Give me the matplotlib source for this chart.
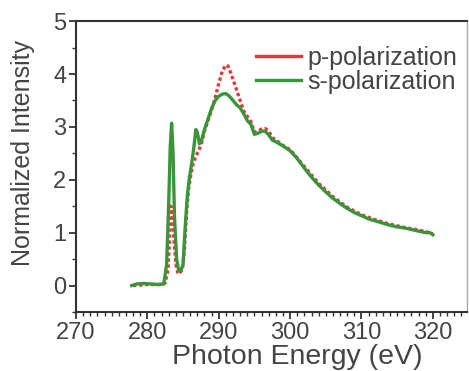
import matplotlib
matplotlib.use('Agg')
import matplotlib.pyplot as plt
from matplotlib.ticker import MultipleLocator
from matplotlib.lines import Line2D

plt.rcParams['font.family'] = ['Liberation Sans', 'DejaVu Sans']

# s-polarization (green)
s_energy = [277.8, 278.5, 279.5, 280.5, 281.5, 282.3, 282.7, 283.0, 283.2, 283.4,
            283.6, 283.8, 284.1, 284.4, 284.7, 285.0, 285.3, 285.6, 285.9, 286.2,
            286.5, 286.8, 287.0, 287.3, 287.6, 288.0, 288.5, 289.0, 289.5, 290.0,
            290.5, 291.0, 291.5, 292.0, 292.5, 293.0, 293.5, 294.0, 294.5, 295.0,
            295.5, 296.0, 296.5, 297.0, 297.5, 298.0, 299.0, 300.0, 301.0, 302.0,
            303.0, 304.0, 305.0, 306.0, 307.0, 308.0, 309.0, 310.0, 311.0, 312.0,
            313.0, 314.0, 315.0, 316.0, 317.0, 318.0, 319.0, 319.6, 320.0]
s_intensity = [0.0, 0.03, 0.04, 0.03, 0.02, 0.03, 0.4, 1.6, 2.6, 3.07,
               2.5, 1.3, 0.5, 0.28, 0.28, 0.4, 1.1, 1.7, 2.05, 2.3,
               2.6, 2.95, 2.9, 2.68, 2.75, 2.95, 3.15, 3.35, 3.5, 3.58,
               3.62, 3.63, 3.58, 3.5, 3.42, 3.36, 3.25, 3.12, 3.05, 2.86,
               2.88, 2.92, 2.92, 2.85, 2.75, 2.72, 2.64, 2.55, 2.4, 2.22,
               2.05, 1.9, 1.77, 1.65, 1.55, 1.46, 1.38, 1.32, 1.26, 1.22,
               1.18, 1.14, 1.11, 1.09, 1.06, 1.03, 1.0, 1.0, 0.96]

# p-polarization (red)
p_energy = [278.0, 280.0, 282.0, 282.5, 282.9, 283.1, 283.3, 283.5, 283.7, 284.0,
            284.3, 284.6, 284.9, 285.2, 285.5, 285.8, 286.1, 286.4, 286.8, 287.2,
            287.6, 288.0, 288.5, 289.0, 289.5, 290.0, 290.5, 291.0, 291.3, 291.6,
            292.0, 292.5, 293.0, 293.5, 294.0, 294.5, 295.0, 295.5, 296.0, 296.5,
            297.0, 297.5, 298.0, 299.0, 300.0, 302.0, 304.0, 306.0, 308.0, 310.0,
            312.0, 314.0, 316.0, 318.0, 319.6, 320.0]
p_intensity = [0.0, 0.02, 0.02, 0.05, 0.3, 0.9, 1.5, 1.45, 0.9, 0.4,
               0.22, 0.25, 0.3, 0.7, 1.4, 1.85, 2.1, 2.3, 2.45, 2.55,
               2.7, 2.92, 3.12, 3.32, 3.55, 3.82, 4.06, 4.17, 4.15, 4.05,
               3.9, 3.7, 3.5, 3.3, 3.2, 3.1, 2.9, 2.92, 2.96, 2.97,
               2.92, 2.8, 2.75, 2.65, 2.57, 2.25, 1.93, 1.68, 1.48, 1.34,
               1.24, 1.16, 1.1, 1.05, 1.0, 0.98]

red = '#e03a3a'
green = '#3a953a'

fig = plt.figure(figsize=(4.69, 3.71), dpi=100)
ax = fig.add_axes([0.162, 0.159, 0.834, 0.784])

ax.plot(p_energy, p_intensity, color=red, lw=2.4, ls=(0, (1, 0.8)))
ax.plot(s_energy, s_intensity, color=green, lw=2.4)

ax.set_xlim(270, 324.8)
ax.set_ylim(-0.5, 5)
ax.xaxis.set_major_locator(MultipleLocator(10))
ax.xaxis.set_minor_locator(MultipleLocator(1))
ax.yaxis.set_major_locator(MultipleLocator(1))
ax.yaxis.set_minor_locator(MultipleLocator(0.5))
ax.tick_params(which='both', direction='out', colors='#333333', labelcolor='#444444',
               labelsize=17, top=False, right=False)
ax.tick_params(which='major', length=5, width=1.3)
ax.tick_params(which='minor', length=3, width=1.0)
ax.tick_params(axis='x', pad=2)
ax.tick_params(axis='y', pad=2)

for side in ['left', 'bottom', 'top']:
    ax.spines[side].set_linewidth(1.5)
    ax.spines[side].set_color('#333333')
ax.spines['right'].set_linewidth(1.0)
ax.spines['right'].set_color('#aaaaaa')

ax.set_xlabel('Photon Energy (eV)', fontsize=20.5, color='#444444', labelpad=0)
ax.xaxis.label.set_x(0.565)
ax.set_ylabel('Normalized Intensity', fontsize=18, color='#444444')
ax.yaxis.set_label_coords(-0.105, 0.545)

handles = [Line2D([], [], color=red, lw=2.4), Line2D([], [], color=green, lw=2.4)]
ax.legend(handles, ['p-polarization', 's-polarization'], loc='upper right',
          frameon=False, fontsize=18, handlelength=1.8, handletextpad=0.25,
          labelspacing=0.0, borderaxespad=0.3, bbox_to_anchor=(1.02, 0.975),
          labelcolor='#444444')

fig.savefig('out.png', dpi=100)
